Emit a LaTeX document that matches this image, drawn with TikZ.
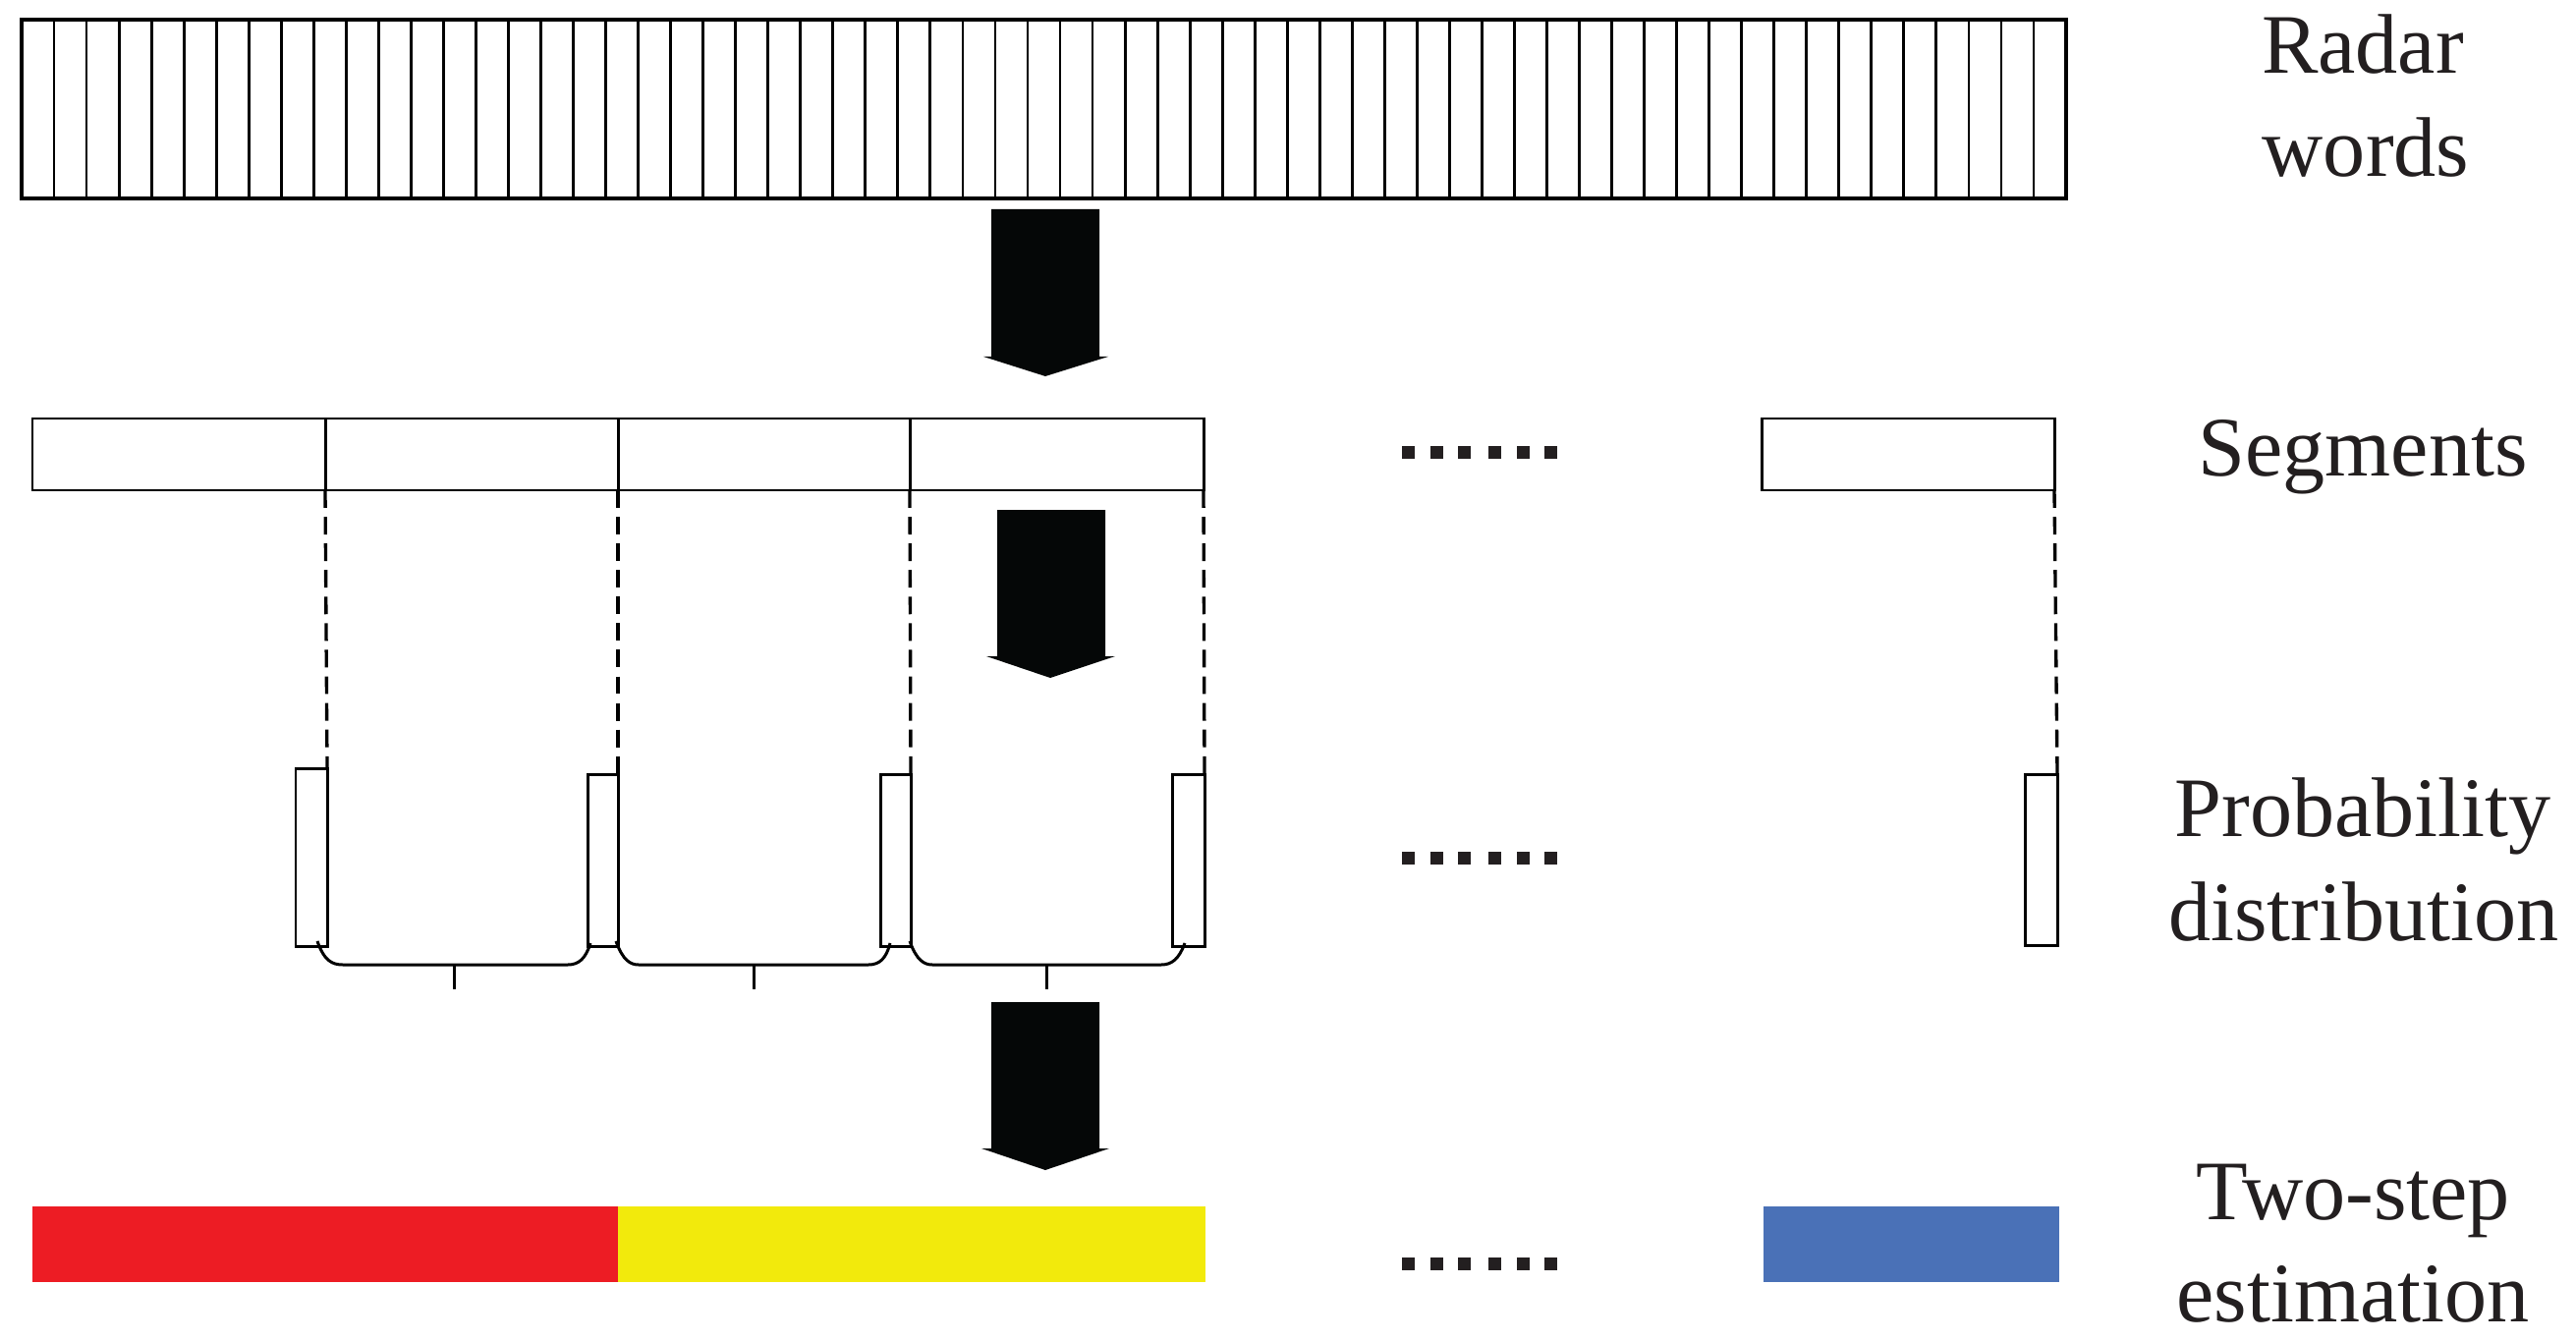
\documentclass[tikz,border=0pt]{standalone}
\usepackage{fontspec}
\setmainfont{Liberation Serif}
\definecolor{ink}{HTML}{231F20}
\definecolor{arrowblack}{HTML}{050707}
\definecolor{barred}{HTML}{ED1C24}
\definecolor{baryellow}{HTML}{F2EA0C}
\definecolor{barblue}{HTML}{4A71B7}
\newcommand\mkbox[6][]{\node[#1, minimum width={(#5-#3)*0.01cm}, minimum height={(#6-#4)*0.01cm}] (#2) at ({(#3+#5)/2},{(#4+#6)/2}) {};}
\tikzset{
  outline/.style={draw=black, line width=0.85pt, inner sep=0pt, outer sep=0pt},
  thickoutline/.style={draw=black, line width=1pt, inner sep=0pt, outer sep=0pt},
  cellline/.style={draw=black, line width=0.8pt},
  bar/.style={inner sep=0pt, outer sep=0pt, draw=none},
  dashlink/.style={draw=black, line width=0.95pt, dash pattern=on 5.1pt off 2.6pt},
  bracepath/.style={draw=black, line width=0.85pt},
  blockarrow/.style={fill=arrowblack, draw=none},
  dotsq/.style={fill=ink, draw=none},
  lbl/.style={font=\fontsize{24.5}{29.9}\selectfont, text=ink, anchor=base, inner sep=0pt}
}
\begin{document}
\begin{tikzpicture}[x=0.01cm, y=-0.01cm]
\useasboundingbox (0,0) rectangle (2622,1364);
% radar words
\mkbox[thickoutline]{radar}{22}{20}{2103}{202}
\foreach \i in {1,...,62} {
  \draw[cellline] ({22+\i*33.0317},20) -- ({22+\i*33.0317},202);
}
% segments
\mkbox[outline]{s1}{33}{426}{331}{499}
\mkbox[outline]{s2}{331}{426}{629}{499}
\mkbox[outline]{s3}{629}{426}{926}{499}
\mkbox[outline]{s4}{926}{426}{1225}{499}
\mkbox[outline]{s5}{1793}{426}{2091}{499}
% probability boxes
\mkbox[outline]{p1}{301}{782}{333}{963}
\mkbox[outline]{p2}{598}{788}{629}{963}
\mkbox[outline]{p3}{896}{788}{927}{963}
\mkbox[outline]{p4}{1193}{788}{1226}{963}
\mkbox[outline]{p5}{2061}{788}{2094}{962}
% dashed links
\draw[dashlink] (s1.south east) -- (p1.north east);
\draw[dashlink] (s2.south east) -- (p2.north east);
\draw[dashlink] (s3.south east) -- (p3.north east);
\draw[dashlink] (s4.south east) -- (p4.north east);
\draw[dashlink] (s5.south east) -- (p5.north east);
% braces
\draw[bracepath] (323,958) .. controls (330,978) and (338,982) .. (349,982) -- (578,982) .. controls (589,982) and (596,976) .. (601,960);
\draw[bracepath] (462,982) -- (462,1007);
\draw[bracepath] (627,958) .. controls (634,978) and (642,982) .. (650,982) -- (884,982) .. controls (895,982) and (902,976) .. (906,960);
\draw[bracepath] (767,982) -- (767,1007);
\draw[bracepath] (926,958) .. controls (933,978) and (941,982) .. (949,982) -- (1182,982) .. controls (1193,982) and (1200,976) .. (1206,960);
\draw[bracepath] (1065,982) -- (1065,1007);
% block arrows
\fill[blockarrow] (1009,213) -- (1119,213) -- (1119,363) -- (1128,363) -- (1064,383) -- (1001,363) -- (1009,363) -- cycle;
\fill[blockarrow] (1015,519) -- (1125,519) -- (1125,668) -- (1135,668) -- (1069,690) -- (1004,668) -- (1015,668) -- cycle;
\fill[blockarrow] (1009,1020) -- (1119,1020) -- (1119,1169) -- (1129,1169) -- (1064,1191) -- (999,1169) -- (1009,1169) -- cycle;
% colour bars
\mkbox[bar, fill=barred]{red}{33}{1228}{629}{1305}
\mkbox[bar, fill=baryellow]{yellow}{629}{1228}{1227}{1305}
\mkbox[bar, fill=barblue]{blue}{1795}{1228}{2096}{1305}
% dots
\foreach \yc in {460.5, 873.5, 1286.5} {
  \foreach \xs in {1427, 1456, 1484, 1515, 1544, 1572} {
    \fill[dotsq] (\xs,\yc-6.5) rectangle (\xs+13,\yc+6.5);
  }
}
% labels
\node[lbl] (t1) at (2405,75) {Radar};
\node[lbl] (t2) at (2408,180) {words};
\node[lbl] (t3) at (2405,484) {Segments};
\node[lbl] (t4) at (2405,851) {Probability};
\node[lbl] (t5) at (2406,957) {distribution};
\node[lbl] (t6) at (2395,1241) {Two-step};
\node[lbl] (t7) at (2395,1345) {estimation};
\end{tikzpicture}
\end{document}
